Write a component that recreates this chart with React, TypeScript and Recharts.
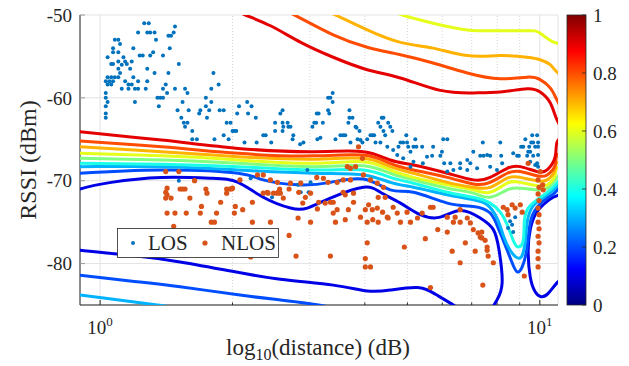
import React from "react";
import { ComposedChart, Scatter, XAxis, YAxis, CartesianGrid, ReferenceLine } from "recharts";

type Pt = [number, number];

const SERIF = '"Liberation Serif", "Times New Roman", "DejaVu Serif", serif';
const INK = "#262626";
const LOS_COLOR = "#0072bd";
const NLOS_COLOR = "#d95319";
const txt = { fontFamily: SERIF };

const xTicks = [1, 10];
const xMinor = [2, 3, 4, 5, 6, 7, 8, 9];
const yTicks = [-80, -70, -60, -50];
const cbTicks = [0, 0.2, 0.4, 0.6, 0.8, 1];
const cbLabels = ["0", "0.2", "0.4", "0.6", "0.8", "1"];

// measurements: [distance, RSSI]
const losPts: Pt[] = [
  [1.26,-51.0],[1.29,-51.0],[1.22,-52.1],[1.28,-52.1],[1.30,-52.1],[1.33,-52.1],[1.48,-51.4],[1.47,-52.1],[1.45,-52.5],[1.43,-52.5],
  [1.08,-53.0],[1.10,-53.0],[1.11,-53.5],[1.07,-54.0],[1.34,-53.0],[1.19,-54.0],[1.44,-54.0],[1.07,-54.5],[1.10,-54.5],[1.04,-55.1],
  [1.13,-55.1],[1.32,-54.5],[1.23,-54.9],[1.25,-54.9],[1.30,-54.9],[1.39,-54.9],[1.06,-55.9],[1.07,-55.9],[1.10,-55.6],[1.14,-55.6],
  [1.18,-55.6],[1.12,-56.0],[1.15,-55.9],[1.51,-55.9],[1.28,-56.5],[1.17,-56.5],[1.10,-56.5],[1.11,-57.0],[1.33,-57.0],[1.43,-57.0],
  [1.81,-57.0],[1.04,-57.5],[1.06,-57.5],[1.08,-57.5],[1.10,-57.5],[1.19,-57.5],[1.03,-58.0],[1.05,-58.0],[1.07,-58.0],[1.14,-58.0],
  [1.22,-58.0],[1.28,-58.0],[1.04,-58.4],[1.06,-58.4],[1.16,-58.4],[1.18,-58.4],[1.41,-58.4],[1.86,-58.4],[1.12,-58.9],[1.16,-58.9],
  [1.20,-58.9],[1.22,-58.9],[1.27,-58.9],[1.39,-58.9],[1.48,-58.9],[1.56,-58.9],[1.79,-58.9],[1.03,-59.4],[1.42,-59.4],[1.58,-59.4],
  [1.03,-60.0],[1.35,-60.0],[1.37,-60.0],[1.39,-60.0],[1.74,-60.0],[1.04,-60.5],[1.54,-60.5],[1.20,-60.5],[1.79,-60.5],[2.16,-60.5],
  [1.03,-61.0],[1.36,-61.0],[1.74,-61.0],[2.07,-61.0],[2.21,-61.0],[1.50,-61.5],[1.59,-61.5],[1.69,-61.5],[1.77,-61.5],[1.87,-61.5],
  [1.91,-61.5],[2.60,-61.5],[1.03,-61.9],[1.68,-61.9],[2.05,-61.9],[2.17,-61.9],[3.14,-61.9],[2.57,-61.9],[1.03,-62.4],[1.53,-62.4],
  [1.75,-62.4],[2.26,-62.4],[1.55,-63.0],[1.58,-63.0],[1.94,-63.0],[2.60,-63.0],[2.67,-63.0],[3.07,-63.0],[2.50,-63.0],[1.56,-63.5],
  [2.61,-63.5],[2.68,-63.5],[3.04,-63.5],[1.62,-64.0],[2.00,-64.0],[2.02,-64.0],[2.04,-64.0],[2.50,-64.0],[2.60,-64.0],[1.91,-64.5],
  [2.35,-64.5],[2.38,-64.5],[2.75,-64.5],[1.62,-65.0],[1.66,-65.0],[1.82,-65.0],[1.96,-65.0],[2.74,-65.0],[3.12,-65.0],[2.13,-65.4],
  [2.27,-65.4],[2.90,-65.4],[2.85,-65.6],
  [3.38,-59.4],[3.30,-60.0],[3.34,-60.0],[3.38,-60.5],[3.30,-61.5],[3.32,-61.9],[3.11,-61.9],[3.21,-63.0],[3.10,-63.0],
  [3.69,-61.5],[3.69,-62.4],[3.75,-62.4],[3.67,-63.0],[3.81,-63.5],[3.89,-64.0],[3.71,-65.4],[3.57,-64.5],[3.61,-64.5],[3.43,-65.0],[3.85,-65.0],
  [4.37,-62.4],[4.41,-62.4],[4.29,-63.0],[4.52,-63.0],[4.34,-63.5],[4.57,-63.5],[4.62,-64.0],[4.41,-64.0],[4.45,-64.5],[4.20,-64.5],
  [4.16,-64.5],[4.05,-65.0],[4.23,-65.4],[4.34,-65.4],[3.95,-65.4],[4.50,-65.9],
  [4.97,-64.5],[4.82,-65.4],[4.89,-65.4],[4.99,-65.4],[5.02,-65.9],[5.21,-65.0],[4.77,-65.9],[5.16,-65.9],[5.24,-65.9],[5.40,-65.9],[5.08,-66.5],
  [6.03,-65.0],[6.16,-65.0],[5.72,-65.9],[5.99,-66.5],[5.69,-67.0],[5.94,-67.0],[7.06,-66.5],[7.42,-65.4],[7.32,-67.0],[7.45,-67.0],[7.71,-67.0],
  [8.13,-65.4],[8.17,-67.0],[8.88,-67.0],[8.96,-67.0],[9.27,-65.0],[9.07,-65.9],[9.17,-65.9],[9.46,-65.9],[9.56,-65.4],[9.66,-65.4],
  [9.91,-65.4],[9.91,-65.9],[9.41,-66.5],[9.51,-66.5],[9.36,-67.0],[9.66,-67.0],
  [5.54,-67.1],[5.42,-67.9],[5.16,-67.7],[5.08,-68.3],[4.89,-67.3],[4.74,-66.9],[4.64,-66.3],[6.06,-67.9],[6.26,-67.9],[6.59,-67.9],
  [6.84,-67.5],[6.95,-67.9],[7.59,-66.9],[8.21,-67.9],[8.70,-66.7],[9.86,-67.9],[9.76,-68.1],[9.91,-66.9],[9.51,-67.7],
  [7.20,-68.5],[6.84,-68.7],[6.59,-68.5],[6.36,-68.7],[6.16,-68.9],[7.71,-68.3],[7.99,-68.7],[9.61,-64.5],[9.86,-64.5],[9.76,-65.9],[9.91,-68.3],
  [1.98,-63.0],[1.51,-70.0],[2.45,-65.4],[2.71,-63.5],[3.17,-64.8],[3.52,-64.5],[3.83,-63.6],[3.91,-65.1],[4.12,-64.5],
  [2.96,-68.7],[2.82,-70.5],[2.86,-71.4],[2.98,-71.4],[3.01,-70.2],[2.46,-72.0],[2.20,-69.7],
  [8.65,-75.3],[8.70,-76.2],[8.56,-74.9],[8.47,-75.7],[8.79,-74.4],
];

const nlosPts: Pt[] = [
  [1.41,-68.9],[1.51,-68.9],[1.64,-70.0],[1.42,-70.9],[1.41,-71.4],[1.42,-71.7],[1.41,-72.1],[1.45,-72.1],[1.52,-71.0],[1.54,-71.0],
  [1.56,-71.0],[1.60,-72.1],[1.74,-71.0],[1.75,-71.5],[1.94,-71.0],[1.97,-71.0],[1.99,-71.0],[1.94,-71.5],[1.88,-72.6],[2.03,-73.1],
  [1.70,-73.1],[1.42,-73.9],[1.48,-73.9],[1.57,-73.9],[1.69,-73.9],[1.84,-73.9],[1.79,-75.0],[1.82,-75.0],[1.47,-75.5],[2.11,-73.5],
  [2.22,-72.6],[2.35,-71.5],[2.41,-71.5],[2.53,-71.5],[2.57,-71.5],[2.56,-71.0],[2.69,-71.0],[2.61,-72.1],[2.02,-73.9],[2.22,-75.0],
  [2.44,-75.0],[2.82,-74.5],[3.01,-75.0],[2.69,-76.6],[2.79,-79.1],[2.20,-79.2],
  [2.00,-70.9],[2.40,-71.4],[2.48,-71.5],[2.54,-71.4],[2.53,-70.2],[2.83,-71.4],[2.93,-72.0],[3.01,-71.5],[3.14,-72.6],[3.25,-72.7],
  [3.34,-72.6],[3.39,-72.6],[3.46,-73.5],[3.57,-71.4],[3.61,-71.7],[3.67,-73.5],[3.61,-74.7],[3.91,-74.4],[4.01,-73.5],[4.08,-72.9],
  [4.16,-73.5],[4.27,-73.3],[4.29,-72.0],[4.45,-72.0],[4.50,-74.4],[4.05,-75.0],[4.17,-74.7],[3.77,-72.6],[3.87,-65.9],[3.65,-68.3],
  [3.71,-68.5],[3.81,-68.3],[3.95,-67.3],[2.89,-72.7],[2.08,-69.9],[2.28,-69.3],[2.35,-69.3],[2.44,-69.9],[2.71,-70.3],[2.86,-70.3],
  [3.11,-69.6],[3.22,-69.7],[3.30,-70.2],[3.46,-70.2],[3.57,-69.9],[3.71,-69.9],[3.97,-69.3],[4.12,-69.9],[4.27,-70.3],[4.41,-70.8],
  [3.34,-79.1],[4.01,-79.4],[4.01,-80.4],[4.12,-80.4],[4.05,-77.5],[4.92,-78.0],[5.64,-82.9],[6.32,-78.5],[6.59,-79.9],[6.77,-77.5],
  [7.13,-78.5],[7.42,-82.6],[7.84,-79.9],[7.63,-79.1],[9.22,-81.5],[9.91,-80.4],[9.91,-78.5],[5.49,-77.0],[5.86,-75.9],[6.16,-76.2],
  [6.42,-74.4],[6.59,-75.0],[6.84,-74.5],[7.06,-75.9],[7.38,-76.2],[7.32,-76.8],[7.51,-77.2],[7.59,-78.0],[3.12,-73.4],[3.39,-73.9],
  [3.43,-75.0],[3.77,-71.5],[4.39,-73.8],[4.29,-75.0],[4.52,-74.5],[4.74,-73.9],[4.82,-75.0],[4.99,-73.8],[5.08,-75.0],[5.27,-74.5],
  [5.40,-73.9],[5.64,-73.2],[10.02,-68.9],[9.91,-69.9],[9.96,-70.8],[9.91,-71.6],[9.96,-72.4],[9.91,-73.3],[9.96,-74.1],[9.91,-75.0],
  [9.96,-75.8],[9.91,-76.7],[9.96,-77.5],[9.91,-79.4],[10.15,-70.5],[8.26,-73.2],[8.43,-73.5],[8.65,-72.9],[8.79,-73.3],[9.03,-72.9],
  [9.12,-73.8],[8.47,-74.1],[7.24,-76.3],[7.38,-76.9],[7.59,-78.4],[9.41,-67.9],[10.18,-71.1],[4.64,-73.2],[5.72,-73.2],[6.16,-74.4],
  [6.59,-73.5],[6.95,-75.1],[6.36,-75.0],
];

// contour lines (probability levels), traced point by point
const lvl90: Pt[] = [
  [2.0,-49.2],[2.14,-50.0],[2.44,-51.3],[2.86,-53.3],[3.39,-55.1],[4.05,-56.6],[4.82,-57.6],[5.94,-59.1],[7.06,-59.4],[8.13,-59.3],
  [9.36,-58.9],[10.02,-59.3],[10.56,-60.6],[10.95,-62.7],[11.3,-64.3],[10.95,-65.3],[10.84,-67.1],[10.39,-68.7],[9.86,-68.9],[9.03,-68.3],
  [8.43,-68.5],[7.71,-69.6],[7.06,-69.9],[6.16,-69.1],[5.16,-68.1],[4.57,-67.5],[3.97,-66.5],[3.05,-66.5],[2.06,-66.1],[1.38,-65.1],
  [0.90,-64.1],[0.85,-63.8],
];
const lvl80: Pt[] = [
  [2.6,-49.3],[2.86,-50.4],[3.39,-52.4],[4.05,-53.9],[4.82,-54.8],[5.72,-55.8],[6.84,-57.0],[8.13,-57.7],[9.36,-57.5],[10.02,-57.8],
  [10.56,-58.8],[10.95,-60.3],[11.5,-63.0],[11.5,-66.0],[10.95,-66.9],[10.84,-68.1],[10.39,-69.3],[9.86,-69.4],[9.03,-68.9],[8.43,-69.1],
  [7.71,-70.2],[7.06,-70.4],[6.16,-69.6],[5.16,-68.7],[4.57,-67.9],[3.97,-66.9],[3.05,-67.0],[2.06,-66.7],[1.38,-65.9],[0.90,-65.2],[0.85,-64.9],
];
const lvl70: Pt[] = [
  [3.2,-49.3],[3.43,-50.0],[4.05,-51.8],[4.82,-53.3],[5.72,-54.0],[6.84,-54.9],[8.13,-54.9],[9.36,-55.1],[10.02,-55.4],[10.56,-56.0],
  [10.95,-56.9],[11.6,-59.5],[11.6,-66.5],[10.95,-67.8],[10.84,-68.7],[10.39,-69.9],[9.86,-70.0],[9.03,-69.6],[8.43,-69.7],[7.71,-70.8],
  [7.06,-70.8],[6.16,-70.2],[5.16,-69.1],[4.57,-68.3],[3.97,-67.3],[3.05,-67.4],[2.06,-67.1],[1.38,-66.5],[0.90,-65.9],[0.85,-65.6],
];
const lvl60: Pt[] = [
  [4.6,-49.4],[4.87,-50.0],[5.72,-51.0],[6.84,-51.8],[8.13,-51.9],[9.36,-51.9],[10.02,-52.2],[10.95,-53.4],[11.7,-55.5],[11.7,-67.0],
  [10.95,-68.4],[10.84,-69.3],[10.39,-70.5],[9.86,-70.6],[9.03,-70.2],[8.43,-70.3],[7.71,-71.4],[7.06,-71.1],[6.16,-70.5],[5.16,-69.6],
  [4.57,-68.7],[3.97,-67.7],[3.05,-67.9],[2.06,-67.5],[1.38,-67.0],[0.90,-66.7],[0.85,-66.5],
];
const lvl50: Pt[] = [
  [0.85,-67.1],[0.90,-67.3],[1.38,-67.5],[2.06,-67.9],[3.05,-68.3],[3.97,-68.2],[4.57,-69.1],[5.16,-69.9],[6.16,-70.9],[7.06,-71.5],
  [7.71,-72.0],[8.43,-71.1],[9.03,-70.9],[9.86,-71.1],[10.39,-70.9],[10.84,-69.9],[11.42,-68.5],
];
const lvl40: Pt[] = [
  [0.85,-67.7],[0.90,-67.9],[1.38,-68.0],[2.06,-68.3],[3.05,-68.7],[3.97,-68.7],[4.57,-69.6],[5.16,-70.3],[6.16,-71.4],[7.06,-72.0],
  [7.71,-72.7],[8.13,-73.8],[8.43,-75.3],[8.70,-77.2],[8.93,-78.0],[9.17,-77.2],[9.22,-75.0],[9.41,-73.3],[9.86,-72.3],[10.39,-71.4],
  [10.84,-70.5],[11.42,-69.1],
];
const lvl30: Pt[] = [
  [0.85,-68.2],[0.90,-68.3],[1.38,-68.3],[2.06,-68.7],[3.05,-69.1],[3.97,-69.3],[4.57,-70.2],[5.16,-70.8],[6.16,-71.7],[7.06,-72.3],
  [7.59,-72.9],[7.99,-74.5],[8.26,-76.6],[8.56,-78.4],[8.88,-79.3],[9.12,-79.0],[9.27,-77.2],[9.36,-75.0],[9.61,-73.2],[10.02,-72.3],
  [10.39,-71.7],[10.84,-70.9],[11.42,-69.4],
];
const lvl20: Pt[] = [
  [0.85,-69.2],[0.90,-69.1],[1.38,-68.7],[2.06,-69.1],[2.35,-69.9],[2.81,-70.5],[3.34,-70.2],[3.97,-69.8],[4.57,-71.1],[5.16,-71.4],
  [6.16,-72.7],[7.06,-73.1],[7.71,-73.9],[8.04,-75.7],[8.26,-77.2],[8.65,-79.9],[8.88,-81.0],[9.12,-80.4],[9.36,-78.0],[9.51,-75.1],
  [9.86,-73.2],[10.39,-72.1],[10.84,-71.4],[11.42,-69.9],
];
const lvl10: Pt[] = [
  [0.85,-71.5],[0.90,-71.0],[1.06,-70.2],[1.38,-69.6],[1.79,-69.7],[2.06,-70.2],[2.35,-72.0],[2.71,-73.3],[2.96,-73.3],[3.34,-72.1],
  [3.97,-70.8],[4.34,-71.4],[4.82,-72.7],[5.35,-74.1],[5.94,-74.4],[6.59,-73.6],[7.32,-74.5],[7.84,-75.9],[8.08,-78.4],[8.21,-82.3],
  [7.99,-84.4],[7.71,-85.8],
];
const lvl10Right: Pt[] = [
  [11.42,-71.5],[10.73,-72.0],[10.18,-72.9],[9.76,-74.1],[9.51,-75.9],[9.41,-78.4],[9.51,-81.6],[9.76,-83.4],[10.07,-84.0],[10.45,-83.6],
  [10.95,-82.3],[11.42,-81.5],
];
const lvl10Low: Pt[] = [
  [0.85,-78.0],[0.90,-78.4],[1.17,-79.0],[1.52,-79.8],[1.98,-80.9],[2.57,-81.9],[3.39,-82.6],[4.05,-83.3],[4.57,-83.2],[5.27,-82.9],
  [5.79,-83.7],[6.36,-85.0],[6.59,-85.6],
];
const lvl20Low: Pt[] = [
  [0.85,-81.2],[0.90,-81.4],[1.17,-82.1],[1.52,-82.8],[2.08,-83.8],[2.57,-84.4],[3.14,-85.0],[3.4,-85.4],
];
const lvl30Low: Pt[] = [[0.85,-83.6],[0.90,-83.8],[1.35,-85.0],[1.45,-85.3]];

const contours: { level: number; pts: Pt[] }[] = [
  { level: 0.3, pts: lvl30Low },
  { level: 0.2, pts: lvl20Low },
  { level: 0.1, pts: lvl10Low },
  { level: 0.1, pts: lvl10Right },
  { level: 0.1, pts: lvl10 },
  { level: 0.2, pts: lvl20 },
  { level: 0.3, pts: lvl30 },
  { level: 0.4, pts: lvl40 },
  { level: 0.5, pts: lvl50 },
  { level: 0.6, pts: lvl60 },
  { level: 0.7, pts: lvl70 },
  { level: 0.8, pts: lvl80 },
  { level: 0.9, pts: lvl90 },
];

// matlab jet colormap
function jet(v: number) {
  const c = (t: number) => Math.round(255 * Math.max(0, Math.min(1, t)));
  const r = c(Math.min(4 * v - 1.5, -4 * v + 4.5));
  const g = c(Math.min(4 * v - 0.5, -4 * v + 3.5));
  const b = c(Math.min(4 * v + 0.5, -4 * v + 2.5));
  return `rgb(${r},${g},${b})`;
}

const rows = (pts: Pt[]) => pts.map(([x, y]) => ({ x, y }));

const dot = (color: string, r: number) => (p: any) => <circle cx={p.cx} cy={p.cy} r={r} fill={color} />;
const noDot = () => <g />;

const XTick = ({ x, y, payload }: any) => {
  const exp = Math.round(Math.log10(payload.value));
  return (
    <g>
      <line x1={x} y1={y} x2={x} y2={y - 5} stroke={INK} />
      <text x={x} y={y + 29} textAnchor="middle" fill={INK} style={txt} fontSize={19}>
        10<tspan dy={-8} fontSize={13}>{exp}</tspan>
      </text>
    </g>
  );
};

const YTick = ({ x, y, payload }: any) => (
  <g>
    <line x1={x} y1={y} x2={x + 5} y2={y} stroke="#999" />
    <text x={x - 8} y={y} dy="0.35em" textAnchor="end" fill={INK} style={txt} fontSize={19}>
      {payload.value}
    </text>
  </g>
);

export default function App() {
  const cbTop = 15, cbBottom = 305, cbX = 567, cbW = 19;
  return (
    <div style={{ position: "absolute", left: 0, top: 0, width: 629, height: 366, background: "#fff", fontFamily: SERIF }}>
      <ComposedChart width={629} height={366} margin={{ top: 15, right: 71, bottom: 0, left: 0 }}>
        <CartesianGrid stroke="#e3e3e3" strokeWidth={1} />
        {xMinor.map((v) => (
          <ReferenceLine key={"g" + v} x={v} stroke="#d6d6d6" strokeDasharray="1 2" />
        ))}
        {xMinor.map((v) => (
          <ReferenceLine key={"t" + v} segment={[{ x: v, y: -85 }, { x: v, y: -84.7 }]} stroke={INK} />
        ))}
        <XAxis
          type="number"
          dataKey="x"
          scale="log"
          domain={[0.9, 11]}
          allowDataOverflow
          ticks={xTicks}
          interval={0}
          tick={<XTick />}
          tickSize={0}
          tickMargin={0}
          tickLine={false}
          height={61}
          axisLine={{ stroke: INK }}
        />
        <YAxis
          type="number"
          dataKey="y"
          domain={[-85, -50]}
          allowDataOverflow
          ticks={yTicks}
          interval={0}
          tick={<YTick />}
          tickSize={0}
          tickMargin={0}
          tickLine={false}
          width={80}
          axisLine={{ stroke: INK }}
        />
        {contours.map((c, i) => (
          <Scatter
            key={"c" + i}
            data={rows(c.pts)}
            fill={jet(c.level)}
            line={{ stroke: jet(c.level), strokeWidth: 3 }}
            lineType="joint"
            lineJointType="natural"
            shape={noDot}
            legendType="none"
            isAnimationActive={false}
          />
        ))}
        <Scatter name="LOS" data={rows(losPts)} fill={LOS_COLOR} shape={dot(LOS_COLOR, 2)} isAnimationActive={false} />
        <Scatter name="NLOS" data={rows(nlosPts)} fill={NLOS_COLOR} shape={dot(NLOS_COLOR, 2.6)} isAnimationActive={false} />
      </ComposedChart>

      <svg width={629} height={366} style={{ position: "absolute", left: 0, top: 0, pointerEvents: "none", fontFamily: SERIF }}>
        <defs>
          <linearGradient id="jetbar" x1="0" y1="1" x2="0" y2="0">
            <stop offset="0" stopColor="#000080" />
            <stop offset="0.125" stopColor="#0000ff" />
            <stop offset="0.375" stopColor="#00ffff" />
            <stop offset="0.625" stopColor="#ffff00" />
            <stop offset="0.875" stopColor="#ff0000" />
            <stop offset="1" stopColor="#800000" />
          </linearGradient>
        </defs>
        <rect x={cbX} y={cbTop} width={cbW} height={cbBottom - cbTop} fill="url(#jetbar)" stroke={INK} strokeWidth={0.8} />
        {cbTicks.map((t, i) => {
          const yy = cbBottom - t * (cbBottom - cbTop);
          return (
            <g key={t}>
              <line x1={cbX + cbW - 4} y1={yy} x2={cbX + cbW} y2={yy} stroke={INK} strokeWidth={0.8} />
              <text x={cbX + cbW + 7} y={yy + 6.5} fill={INK} style={txt} fontSize={19}>
                {cbLabels[i]}
              </text>
            </g>
          );
        })}

        <text transform="rotate(-90)" x={-160} y={36} textAnchor="middle" fill={INK} style={txt} fontSize={24}>
          RSSI (dBm)
        </text>
        <text x={318} y={355} textAnchor="middle" fill={INK} style={txt} fontSize={23}>
          log<tspan dy={5} fontSize={16}>10</tspan>
          <tspan dy={-5}>(distance) (dB)</tspan>
        </text>

        <rect x={117.5} y={228.5} width={161} height={29} fill="#fff" stroke={INK} strokeWidth={0.8} />
        <circle cx={133} cy={243} r={2} fill={LOS_COLOR} />
        <text x={148} y={250} fill={INK} style={txt} fontSize={21}>LOS</text>
        <circle cx={205} cy={243} r={2.6} fill={NLOS_COLOR} />
        <text x={221} y={250} fill={INK} style={txt} fontSize={21}>NLOS</text>
      </svg>
    </div>
  );
}
